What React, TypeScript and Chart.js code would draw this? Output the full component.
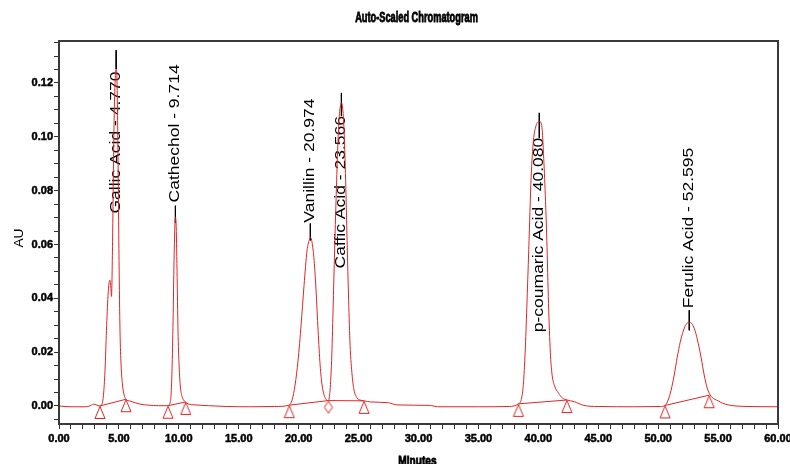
import React, { useEffect, useRef } from 'react';
import { Chart, registerables } from 'chart.js';

Chart.register(...registerables);

// ---- Chromatogram trace (minutes, AU) ----
const traceTime = [
  0.0, 0.5, 1.0, 1.5, 2.0, 2.4, 2.7, 2.9, 3.1, 3.42,
  3.59, 3.71, 3.84, 3.96, 4.09, 4.17, 4.26, 4.34, 4.38, 4.47,
  4.55, 4.63, 4.72, 4.77, 4.84, 4.92, 5.01, 5.09, 5.18, 5.30,
  5.43, 5.59, 5.93, 6.34, 6.76, 7.5, 8.3, 9.10,
  9.27, 9.35, 9.43, 9.52, 9.60, 9.68, 9.72, 9.77, 9.85, 9.93,
  10.02, 10.14, 10.31, 10.52, 10.77, 11.35, 12.5, 14.0, 16.0, 18.0,
  19.20, 19.45, 19.70, 19.95, 20.20, 20.45, 20.70, 20.87, 21.00, 21.12,
  21.29, 21.45, 21.62, 21.79, 21.95, 22.12, 22.29, 22.48,
  22.62, 22.75, 22.87, 23.00, 23.12, 23.25, 23.37, 23.50, 23.57, 23.66,
  23.79, 23.92, 24.04, 24.17, 24.29, 24.46, 24.62, 24.87, 25.12, 25.46,
  26.0, 27.5, 28.2, 31.0, 31.6, 35.0, 37.6,
  38.34, 38.55, 38.75, 38.90, 39.04, 39.20, 39.40, 39.59, 39.80, 40.08,
  40.30, 40.45, 40.60, 40.71, 40.85, 41.00, 41.13, 41.35, 41.68, 42.00,
  42.40, 43.0, 43.8, 45.0, 48.0, 50.2,
  50.58, 50.83, 51.08, 51.34, 51.59, 51.84, 52.09, 52.34, 52.59, 52.84,
  53.09, 53.34, 53.59, 53.84, 54.09, 54.34, 54.68, 55.01, 55.34, 55.84,
  56.5, 57.5, 60.0,
];
const traceAU = [
  0.0000, -0.0002, -0.0003, -0.0003, -0.0003, -0.0002, 0.0003, 0.0007, 0.0004, 0.0000,
  0.0007, 0.0040, 0.0133, 0.0280, 0.0410, 0.0456, 0.0467, 0.0430, 0.0407, 0.0610,
  0.0910, 0.1130, 0.1237, 0.1252, 0.1207, 0.0948, 0.0540, 0.0280, 0.0152, 0.0078,
  0.0041, 0.0025, 0.0018, 0.0012, 0.0007, 0.0003, 0.0001, 0.0001,
  0.0011, 0.0040, 0.0133, 0.0319, 0.0540, 0.0681, 0.0700, 0.0680, 0.0504, 0.0281,
  0.0152, 0.0067, 0.0030, 0.0016, 0.0008, 0.0004, 0.0001, -0.0002, -0.0003, -0.0002,
  0.0003, 0.0022, 0.0078, 0.0170, 0.0300, 0.0448, 0.0578, 0.0615, 0.0626, 0.0607,
  0.0540, 0.0430, 0.0280, 0.0152, 0.0078, 0.0041, 0.0024, 0.0020,
  0.0059, 0.0170, 0.0356, 0.0580, 0.0763, 0.0948, 0.1067, 0.1119, 0.1126, 0.1111,
  0.1022, 0.0837, 0.0615, 0.0393, 0.0226, 0.0115, 0.0059, 0.0030, 0.0022, 0.0019,
  0.0015, 0.0012, 0.0004, 0.0002, -0.0003, -0.0003, -0.0002,
  0.0008, 0.0020, 0.0080, 0.0200, 0.0367, 0.0580, 0.0850, 0.0985, 0.1040, 0.1058,
  0.1035, 0.0920, 0.0760, 0.0615, 0.0380, 0.0200, 0.0122, 0.0075, 0.0048, 0.0030,
  0.0022, 0.0016, 0.0002, -0.0002, -0.0003, -0.0002,
  0.0002, 0.0022, 0.0059, 0.0115, 0.0181, 0.0237, 0.0278, 0.0304, 0.0311, 0.0304,
  0.0278, 0.0233, 0.0178, 0.0115, 0.0067, 0.0041, 0.0026, 0.0019, 0.0011, 0.0004,
  0.0000, -0.0002, -0.0003,
];

// ---- Peaks ----
const peakNames = ['Gallic Acid', 'Cathechol', 'Vanillin', 'Caffic Acid', 'p-coumaric Acid', 'Ferulic Acid'];
const peakTimes = [4.77, 9.714, 20.974, 23.566, 40.08, 52.595];
const peakTimeLabels = ['4.770', '9.714', '20.974', '23.566', '40.080', '52.595'];
const labelLineTop = [0.1322, 0.0744, 0.0678, 0.1163, 0.1089, 0.0356];
const labelLineBottom = [0.1252, 0.0680, 0.0615, 0.1078, 0.0996, 0.0281];
const labelTextStart = [0.0715, 0.0756, 0.0681, 0.0511, 0.0274, 0.0363];

// ---- Integration baselines ----
const baseStartTime = [3.42, 9.10, 19.22, 22.48, 38.34, 50.58];
const baseStartAU = [0.0000, 0.0001, 0.0003, 0.0020, 0.0008, 0.0002];
const baseEndTime = [5.59, 10.57, 22.48, 25.46, 42.38, 54.26];
const baseEndAU = [0.0025, 0.0015, 0.0020, 0.0019, 0.0022, 0.0040];

// ---- Axes ----
const xMajorTicks = [0, 5, 10, 15, 20, 25, 30, 35, 40, 45, 50, 55, 60];
const yMajorTicks = [0, 0.02, 0.04, 0.06, 0.08, 0.1, 0.12];
const xMin = 0, xMax = 60;
const yMin = -0.0067, yMax = 0.1356;

const RED = 'rgb(222, 38, 38)';
const FONT = '"Liberation Sans", Arial, sans-serif';

function makeTriangle(): HTMLCanvasElement {
  const c = document.createElement('canvas');
  c.width = 12; c.height = 28;
  const g = c.getContext('2d')!;
  g.strokeStyle = RED; g.lineWidth = 1;
  g.beginPath();
  g.moveTo(6, 14.5); g.lineTo(11, 26.5); g.lineTo(1, 26.5); g.closePath();
  g.stroke();
  return c;
}
function makeDiamond(): HTMLCanvasElement {
  const c = document.createElement('canvas');
  c.width = 12; c.height = 28;
  const g = c.getContext('2d')!;
  g.strokeStyle = RED; g.lineWidth = 1;
  g.beginPath();
  g.moveTo(6, 14.5); g.lineTo(10, 20.5); g.lineTo(6, 26.5); g.lineTo(2, 20.5); g.closePath();
  g.stroke();
  return c;
}

const isMajor = (v: number, list: number[]) => list.some((m) => Math.abs(m - v) < 1e-6);

export default function App() {
  const ref = useRef<HTMLCanvasElement | null>(null);
  useEffect(() => {
    if (!ref.current) return;
    const tri = makeTriangle();
    const dia = makeDiamond();

    const traceData = traceTime.map((t, i) => ({ x: t, y: traceAU[i] }));

    const baseSets = baseStartTime.map((t, i) => ({
      data: [{ x: t, y: baseStartAU[i] }, { x: baseEndTime[i], y: baseEndAU[i] }],
      borderColor: RED, borderWidth: 1, pointRadius: 0, showLine: true, tension: 0,
    }));

    const markers: { x: number; y: number }[] = [];
    const markerStyles: HTMLCanvasElement[] = [];
    baseStartTime.forEach((t, i) => {
      [[t, baseStartAU[i]], [baseEndTime[i], baseEndAU[i]]].forEach(([mt, ma]) => {
        if (markers.some((m) => Math.abs(m.x - mt) < 1e-6)) return;
        const shared = baseEndTime.some((e) => Math.abs(e - mt) < 1e-6) && baseStartTime.some((s) => Math.abs(s - mt) < 1e-6);
        markers.push({ x: mt, y: ma });
        markerStyles.push(shared ? dia : tri);
      });
    });

    const lineSets = peakTimes.map((t, i) => ({
      data: [{ x: t, y: labelLineTop[i] }, { x: t, y: labelLineBottom[i] }],
      borderColor: '#000', borderWidth: 1, pointRadius: 0, showLine: true, tension: 0,
    }));

    const decor = {
      id: 'decor',
      beforeDatasetsDraw(chart: any) {
        const { ctx, scales } = chart;
        const x = scales.x, y = scales.y;
        ctx.save();
        ctx.fillStyle = '#000';
        ctx.font = `14px ${FONT}`;
        ctx.textBaseline = 'middle';
        ctx.textAlign = 'left';
        peakNames.forEach((n, i) => {
          const px = x.getPixelForValue(peakTimes[i]);
          const py = y.getPixelForValue(labelTextStart[i]);
          ctx.save();
          ctx.translate(px, py);
          ctx.rotate(-Math.PI / 2);
          ctx.scale(1.25, 1);
          ctx.fillText(`${n} - ${peakTimeLabels[i]}`, 0, 0);
          ctx.restore();
        });
        ctx.restore();
      },
      afterDraw(chart: any) {
        const { ctx, chartArea: a } = chart;
        ctx.save();
        ctx.strokeStyle = '#3a3a3a';
        ctx.lineWidth = 2;
        ctx.strokeRect(a.left, a.top, a.right - a.left, a.bottom - a.top);
        const cx = (a.left + a.right) / 2;
        ctx.fillStyle = '#000';
        ctx.strokeStyle = '#000';
        // title
        ctx.save();
        ctx.translate(cx - 2, 18);
        ctx.scale(0.66, 1);
        ctx.font = `bold 14px ${FONT}`;
        ctx.textAlign = 'center';
        ctx.textBaseline = 'middle';
        ctx.lineWidth = 0.8;
        ctx.fillText('Auto-Scaled Chromatogram', 0, 0);
        ctx.strokeText('Auto-Scaled Chromatogram', 0, 0);
        ctx.restore();
        // x title
        ctx.save();
        ctx.translate(cx - 1, 455);
        ctx.scale(0.78, 1);
        ctx.font = `bold 13px ${FONT}`;
        ctx.textAlign = 'center';
        ctx.textBaseline = 'top';
        ctx.lineWidth = 0.8;
        ctx.fillText('Minutes', 0, 0);
        ctx.strokeText('Minutes', 0, 0);
        ctx.restore();
        // y title
        ctx.save();
        ctx.translate(20, 238);
        ctx.rotate(-Math.PI / 2);
        ctx.scale(1.15, 1);
        ctx.font = `12px ${FONT}`;
        ctx.textAlign = 'center';
        ctx.textBaseline = 'middle';
        ctx.fillText('AU', 0, 0);
        ctx.restore();
        ctx.restore();
      },
    };

    const tickFont = { family: FONT, size: 11, weight: 'bold' };

    const chart = new Chart(ref.current, {
      type: 'line',
      data: {
        datasets: [
          {
            data: traceData, borderColor: RED, borderWidth: 1, pointRadius: 0,
            cubicInterpolationMode: 'monotone',
          } as any,
          ...baseSets,
          {
            data: markers, showLine: false, pointRadius: 4, pointStyle: markerStyles as any,
            borderColor: RED, backgroundColor: 'transparent',
          } as any,
          ...lineSets,
        ],
      },
      options: {
        responsive: false,
        animation: false,
        layout: { padding: { top: 41, right: 12, bottom: 0, left: 0 } },
        plugins: { legend: { display: false }, tooltip: { enabled: false }, title: { display: false } },
        elements: { point: { radius: 0 } },
        scales: {
          x: {
            type: 'linear', min: xMin, max: xMax,
            afterFit(s: any) { s.height = 40; s.paddingLeft = 0; s.paddingRight = 0; },
            border: { display: false },
            grid: { drawOnChartArea: false, drawTicks: true, tickLength: 5, color: '#333', tickColor: '#333' },
            ticks: {
              stepSize: 1, autoSkip: false, maxRotation: 0, minRotation: 0, includeBounds: false,
              padding: 3, color: '#000', font: tickFont, textStrokeColor: '#000', textStrokeWidth: 0.5,
              callback: (v: any) => (isMajor(Number(v), xMajorTicks) ? Number(v).toFixed(2) : ''),
            },
          },
          y: {
            type: 'linear', min: yMin, max: yMax,
            afterFit(s: any) { s.width = 59; s.paddingTop = 0; s.paddingBottom = 0; },
            border: { display: false },
            grid: { drawOnChartArea: false, drawTicks: true, tickLength: 5, color: '#333', tickColor: '#333' },
            ticks: {
              stepSize: 0.005, autoSkip: false, includeBounds: false,
              padding: 1, color: '#000', font: tickFont, textStrokeColor: '#000', textStrokeWidth: 0.5,
              callback: (v: any) => (isMajor(Number(v), yMajorTicks) ? Number(v).toFixed(2) : ''),
            },
          },
        },
      } as any,
      plugins: [decor],
    });
    return () => chart.destroy();
  }, []);

  return (
    <div style={{ position: 'absolute', left: 0, top: 0, width: 790, height: 464, background: '#fff' }}>
      <canvas ref={ref} width={790} height={464} style={{ display: 'block' }} />
    </div>
  );
}
